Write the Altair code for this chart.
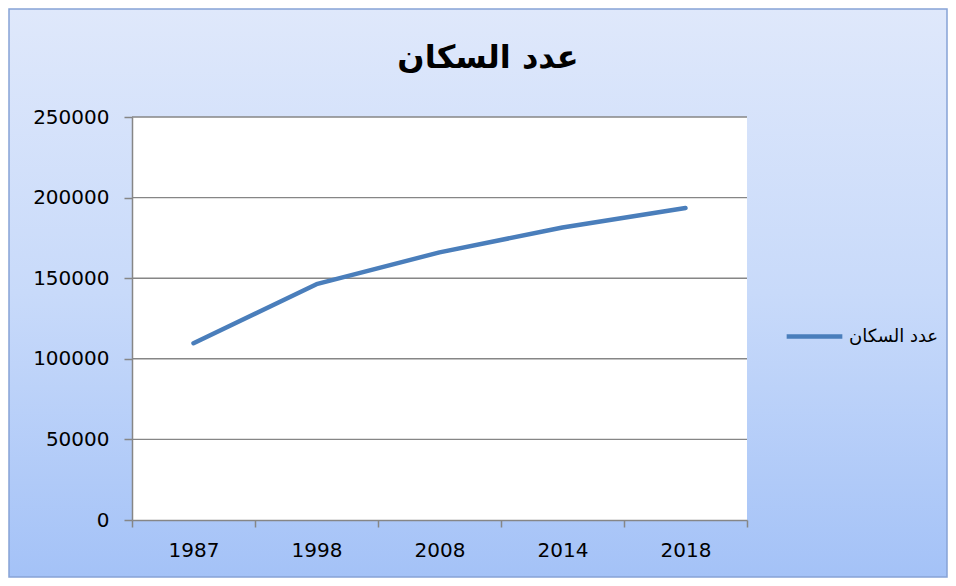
import altair as alt
import pandas as pd

# ---- data ----
years = ["1987", "1998", "2008", "2014", "2018"]
population = [109700, 146300, 166000, 181500, 193500]
series_name = "عدد السكان"
chart_title = "عدد السكان"
y_ticks = [0, 50000, 100000, 150000, 200000, 250000]

# ---- layout ----
W, H = 615, 403
PL, PT, PR, PB = 124, 109, 201, 58
GRAY = "#868686"
FONT = "DejaVu Sans"

df = pd.DataFrame({"year": years, "population": population, "series": [series_name] * len(years)})
grid_df = pd.DataFrame({"v": y_ticks[1:]})
one_df = pd.DataFrame({"k": [0]})
title_df = pd.DataFrame({"t": [chart_title]})

gradient = alt.LinearGradient(
    gradient="linear",
    x1=0, y1=0, x2=0, y2=1,
    stops=[
        alt.GradientStop(color="#DFE8FB", offset=0),
        alt.GradientStop(color="#C8DAFA", offset=0.5),
        alt.GradientStop(color="#A4C2F7", offset=1),
    ],
)

y_axis = alt.Axis(
    title=None, values=y_ticks, format="d", grid=False,
    domainColor=GRAY, domainWidth=1.5, tickColor=GRAY, tickWidth=1.5, tickSize=8,
    labelFont=FONT, labelFontSize=20, labelColor="black", labelPadding=15, zindex=1,
)
y_scale = alt.Scale(domain=[0, 250000], nice=False)

bg = alt.Chart(one_df).mark_rect(fill=gradient, stroke="#86A3D6", strokeWidth=1.5).encode(
    x=alt.value(-PL + 1), x2=alt.value(W + PR - 1),
    y=alt.value(-PT + 1), y2=alt.value(H + PB - 1),
)

plotbg = alt.Chart(one_df).mark_rect(fill="white").encode(
    x=alt.value(0), x2=alt.value(W), y=alt.value(0), y2=alt.value(H),
)

grid = alt.Chart(grid_df).mark_rule(color=GRAY, strokeWidth=1.4).encode(
    y=alt.Y("v:Q", axis=y_axis, scale=y_scale),
)

title = alt.Chart(title_df).mark_text(
    font=FONT, fontSize=32, fontWeight="bold", color="black",
    align="center", baseline="alphabetic",
).encode(
    text="t:N", x=alt.value(356), y=alt.value(-49),
)

line = alt.Chart(df).mark_line(strokeWidth=4.5, strokeCap="round", strokeJoin="round").encode(
    x=alt.X(
        "year:O", sort=years, bandPosition=0.5,
        scale=alt.Scale(type="band", paddingInner=0, paddingOuter=0),
        axis=alt.Axis(
            title=None, labelAngle=0, tickBand="extent", grid=False,
            domainColor=GRAY, domainWidth=1.5, tickColor=GRAY, tickWidth=1.5, tickSize=7,
            labelFont=FONT, labelFontSize=20, labelColor="black", labelPadding=13, zindex=1,
        ),
    ),
    y=alt.Y("population:Q", scale=y_scale, axis=y_axis),
    color=alt.Color(
        "series:N", scale=alt.Scale(range=["#4A7EBB"]),
        legend=alt.Legend(
            title=None, orient="none", legendX=652, legendY=189,
            symbolType="stroke", symbolSize=3100, symbolStrokeWidth=4.5,
            labelFont=FONT, labelFontSize=18, labelColor="black", labelOffset=4, zindex=1,
        ),
    ),
)

chart = alt.layer(bg, plotbg, grid, title, line).properties(
    width=W, height=H,
    padding={"left": PL, "top": PT, "right": PR, "bottom": PB},
    autosize=alt.AutoSizeParams(type="none"),
).configure_view(stroke=None)

chart.save("out.html", embed_options={"renderer": "svg", "actions": False})
